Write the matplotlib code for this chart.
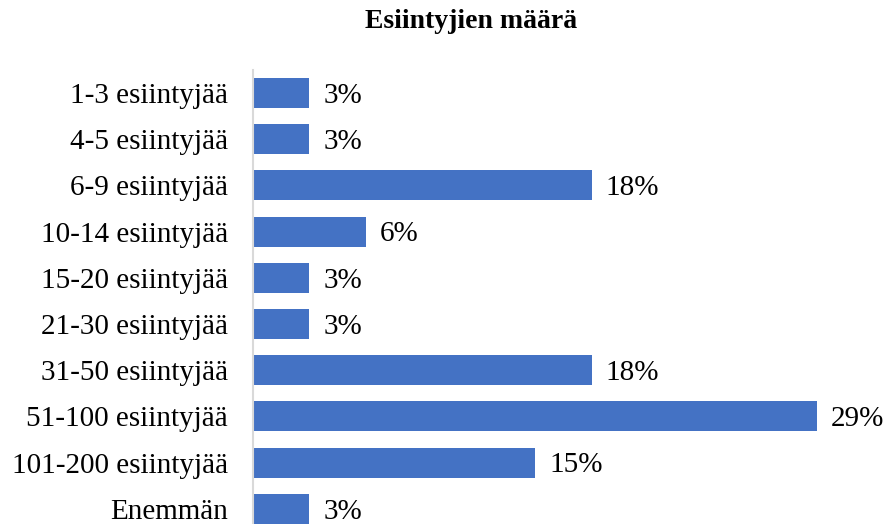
import matplotlib
matplotlib.use('Agg')
import matplotlib.pyplot as plt

categories = ['1-3 esiintyjää', '4-5 esiintyjää', '6-9 esiintyjää', '10-14 esiintyjää',
              '15-20 esiintyjää', '21-30 esiintyjää', '31-50 esiintyjää', '51-100 esiintyjää',
              '101-200 esiintyjää', 'Enemmän']
shares = [2.94, 2.94, 17.65, 5.88, 2.94, 2.94, 17.65, 29.41, 14.71, 2.94]

plt.rcParams['font.family'] = ['Liberation Serif', 'DejaVu Serif']

fig = plt.figure(figsize=(8.86, 5.24), dpi=100)
ax = fig.add_axes([253 / 886, 0, 633 / 886, 454 / 524])

pos = list(range(len(categories)))
ax.barh(pos, shares, height=0.65, color='#4472C4')
for p, v in zip(pos, shares):
    ax.annotate('%.0f%%' % v, (v, p), xytext=(10, -2), textcoords='offset points',
                va='center', ha='left', fontsize=21)

ax.set_xlim(0, 33.0)
ax.set_ylim(9.33, -0.5)
ax.set_yticks(pos)
ax.set_yticklabels(categories, fontsize=21)
ax.tick_params(axis='y', length=0, pad=18)
for t in ax.get_yticklabels():
    t.set_va('center_baseline')
ax.set_xticks([])
for s in ['top', 'right', 'bottom']:
    ax.spines[s].set_visible(False)
ax.spines['left'].set_color('#D9D9D9')
ax.spines['left'].set_linewidth(1.5)

fig.text(471 / 886, 1 - 22 / 524, 'Esiintyjien määrä', ha='center', va='center',
         fontsize=20, fontweight='bold')

fig.savefig('out.png', dpi=100)
